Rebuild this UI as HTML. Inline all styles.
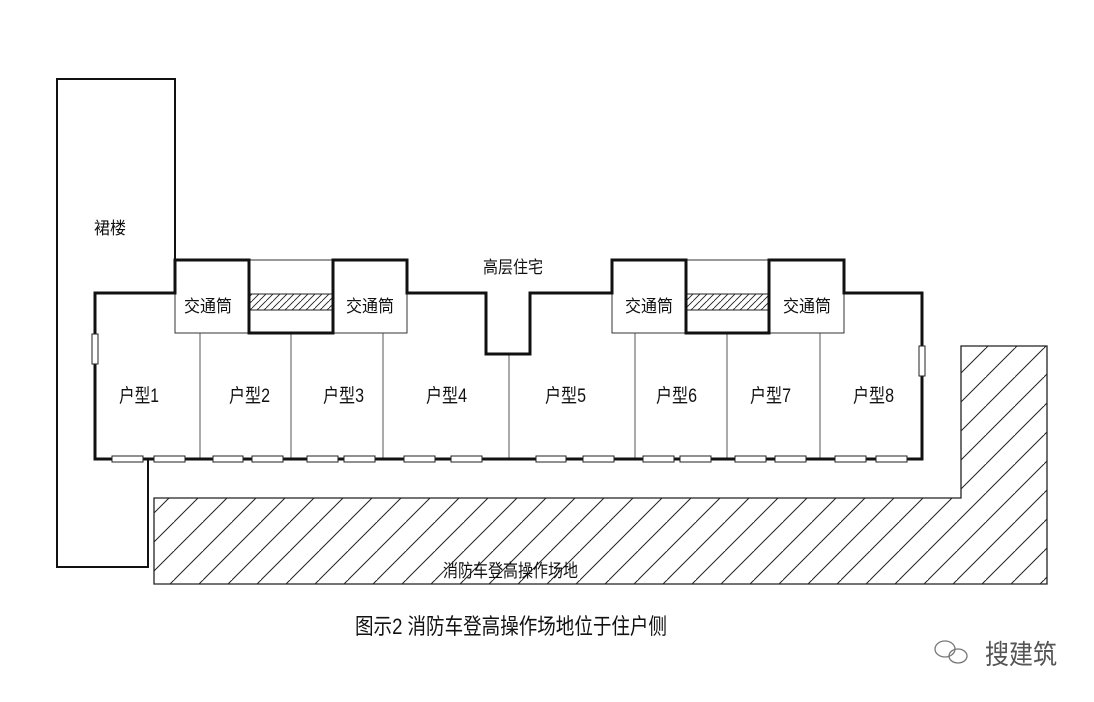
<!DOCTYPE html>
<html><head><meta charset="utf-8"><style>
html,body{margin:0;padding:0;background:#fff;}
svg{display:block;}
text{font-family:"Liberation Sans","Noto Sans CJK SC",sans-serif;fill:#111;}
</style></head><body>
<svg width="1094" height="702" viewBox="0 0 1094 702" xmlns="http://www.w3.org/2000/svg">
<defs>
<pattern id="h" patternUnits="userSpaceOnUse" width="29" height="29">
<path d="M-2,31 L31,-2 M-31,31 L2,-2 M27,60 L60,27" stroke="#222" stroke-width="1"/>
</pattern>
<pattern id="hs" patternUnits="userSpaceOnUse" width="7" height="7">
<path d="M-1,8 L8,-1 M-8,8 L1,-1 M6,15 L15,6" stroke="#222" stroke-width="0.9"/>
</pattern>
</defs>
<rect width="1094" height="702" fill="#fff"/>
<path d="M148,459 L148,567 L57,567 L57,79 L175,79 L175,262" fill="none" stroke="#111" stroke-width="2"/>
<path d="M154,498 L961,498 L961,346 L1047,346 L1047,584 L154,584 Z" fill="url(#h)" stroke="#222" stroke-width="1.3"/>
<g fill="#fff" stroke="#333" stroke-width="1">
<rect x="175" y="260" width="74" height="73"/>
<rect x="333" y="260" width="74" height="73"/>
<rect x="612" y="260" width="74" height="73"/>
<rect x="769" y="260" width="75" height="73"/>
<rect x="249" y="260" width="84" height="73"/>
<rect x="686" y="260" width="83" height="73"/>
</g>
<rect x="249" y="294" width="84" height="16" fill="url(#hs)" stroke="#222" stroke-width="1"/>
<rect x="686" y="294" width="83" height="16" fill="url(#hs)" stroke="#222" stroke-width="1"/>
<g stroke="#555" stroke-width="1">
<line x1="200" y1="333" x2="200" y2="459"/>
<line x1="291" y1="333" x2="291" y2="459"/>
<line x1="383" y1="333" x2="383" y2="459"/>
<line x1="509" y1="354" x2="509" y2="459"/>
<line x1="635" y1="333" x2="635" y2="459"/>
<line x1="727" y1="333" x2="727" y2="459"/>
<line x1="820" y1="333" x2="820" y2="459"/>
</g>
<path d="M95,459 L95,293 L175,293 L175,260 L249,260 L249,333 L333,333 L333,260 L407,260 L407,293 L486,293 L486,354 L530,354 L530,293 L612,293 L612,260 L686,260 L686,333 L769,333 L769,260 L844,260 L844,293 L922,293 L922,459 Z" fill="none" stroke="#111" stroke-width="3"/>
<rect x="92" y="334" width="6" height="30" fill="#fff" stroke="#222" stroke-width="1"/>
<rect x="919" y="346" width="6" height="30" fill="#fff" stroke="#222" stroke-width="1"/>
<g fill="#fff" stroke="#222" stroke-width="1">
<rect x="112" y="456" width="31" height="6"/><rect x="154" y="456" width="31" height="6"/>
<rect x="213" y="456" width="30" height="6"/><rect x="252" y="456" width="31" height="6"/>
<rect x="307" y="456" width="31" height="6"/><rect x="344" y="456" width="31" height="6"/>
<rect x="404" y="456" width="31" height="6"/><rect x="451" y="456" width="31" height="6"/>
<rect x="536" y="456" width="30" height="6"/><rect x="583" y="456" width="31" height="6"/>
<rect x="643" y="456" width="31" height="6"/><rect x="680" y="456" width="31" height="6"/>
<rect x="735" y="456" width="31" height="6"/><rect x="775" y="456" width="31" height="6"/>
<rect x="835" y="456" width="31" height="6"/><rect x="876" y="456" width="31" height="6"/>
</g>
<g font-size="17">
<text x="94" y="234" textLength="32" lengthAdjust="spacingAndGlyphs">裙楼</text>
<text x="483" y="273" textLength="60" lengthAdjust="spacingAndGlyphs">高层住宅</text>
<text x="184" y="312" textLength="48" lengthAdjust="spacingAndGlyphs">交通筒</text>
<text x="346" y="312" textLength="48" lengthAdjust="spacingAndGlyphs">交通筒</text>
<text x="625" y="312" textLength="48" lengthAdjust="spacingAndGlyphs">交通筒</text>
<text x="783" y="312" textLength="48" lengthAdjust="spacingAndGlyphs">交通筒</text>
</g>
<g font-size="19">
<text x="119" y="402" textLength="40" lengthAdjust="spacingAndGlyphs">户型1</text>
<text x="229" y="402" textLength="41" lengthAdjust="spacingAndGlyphs">户型2</text>
<text x="323" y="402" textLength="41" lengthAdjust="spacingAndGlyphs">户型3</text>
<text x="426" y="402" textLength="41" lengthAdjust="spacingAndGlyphs">户型4</text>
<text x="545" y="402" textLength="41" lengthAdjust="spacingAndGlyphs">户型5</text>
<text x="656" y="402" textLength="41" lengthAdjust="spacingAndGlyphs">户型6</text>
<text x="750" y="402" textLength="41" lengthAdjust="spacingAndGlyphs">户型7</text>
<text x="853" y="402" textLength="41" lengthAdjust="spacingAndGlyphs">户型8</text>
</g>
<text x="443" y="577" font-size="18" textLength="135" lengthAdjust="spacingAndGlyphs">消防车登高操作场地</text>
<text x="355" y="634" font-size="22" textLength="312" lengthAdjust="spacingAndGlyphs">图示2  消防车登高操作场地位于住户侧</text>
<g fill="none" stroke="#777" stroke-width="1.3">
<ellipse cx="945" cy="649" rx="10" ry="8"/>
<ellipse cx="958" cy="656" rx="9" ry="7"/>
</g>
<text x="985" y="664" font-size="27" style="fill:#555" textLength="72" lengthAdjust="spacingAndGlyphs">搜建筑</text>
</svg>
</body></html>
